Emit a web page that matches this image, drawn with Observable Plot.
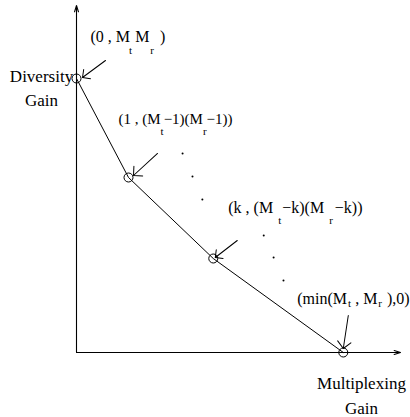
<!DOCTYPE html>
<html>
<head>
<meta charset="utf-8">
<script src="https://cdn.jsdelivr.net/npm/d3@7"></script>
<script src="https://cdn.jsdelivr.net/npm/@observablehq/plot@0.6"></script>
<style>
  html, body { margin: 0; padding: 0; background: #fff; }
  svg text { font-family: "Liberation Serif", "Times New Roman", Times, "DejaVu Serif", serif !important; }
</style>
</head>
<body>
<div id="chart"></div>
<script>
// ---- data (schematic units) ----
const gainX = [0, 1, 2.63, 5.13];          // multiplexing gain of the marked corner points
const gainY = [27.4, 17.5, 9.4, 0];        // diversity gain of the marked corner points
const xMax = 6.23;                         // x axis arrow end
const yMax = 34.7;                         // y axis arrow end
const ellipsisX = [2.04, 2.23, 2.42, 3.60, 3.79, 3.98];
const ellipsisY = [19.9, 17.6, 15.3, 11.7, 9.5, 7.2];
// label pieces: even index = normal text, odd index = subscript
const labelParts = [
  ["(0 , M", "t", "M", "r", ")"],
  ["(1 , (M", "t", "\u22121)(M", "r", "\u22121))"],
  ["(k , (M", "t", "\u2212k)(M", "r", "\u2212k))"],
  ["(min(M", "t", " , M", "r", " ),0)"]
];
const yTitle = ["Diversity", "Gain"];
const xTitle = ["Multiplexing", "Gain"];

// ---- styling / layout (offsets in px) ----
const labelStyle = [
  {dx: 14,  dy: -42.1, size: 16, segs: [[0,0],[-1,12],[3,0],[1,12],[6,0]]},
  {dx: -10, dy: -58.5, size: 15, segs: [[0,0],[0,11],[0,0],[0,11],[0,0]]},
  {dx: 15,  dy: -51.1, size: 16, segs: [[0,0],[5,11],[1,0],[5,11],[2,0]]},
  {dx: -46, dy: -54.1, size: 16, segs: [[0,0],[1,3],[0,0],[1,3],[1,0]]}
];
const arrowStyle = [
  {len: 28.6, rot: 233.5, dx: 6, dy: -1},
  {len: 32.6, rot: 227.5, dx: 5, dy: -2},
  {len: 27.8, rot: 232.3, dx: 2, dy: -1},
  {len: 33.4, rot: 188.6, dx: 0, dy: -4}
];
const FONT = "Liberation Serif, Times New Roman, Times, DejaVu Serif, serif";

const idx = gainX.map((_, i) => i);

const marks = [
  // axes with arrowheads
  Plot.arrow([0], {x1: () => 0, y1: () => 0, x2: () => 0, y2: () => yMax,
    stroke: "black", strokeWidth: 1.1, headLength: 9, headAngle: 35}),
  Plot.arrow([0], {x1: () => 0, y1: () => 0, x2: () => xMax, y2: () => 0,
    stroke: "black", strokeWidth: 1.1, headLength: 9, headAngle: 35}),
  // tradeoff curve
  Plot.line(idx, {x: i => gainX[i], y: i => gainY[i], stroke: "black", strokeWidth: 1}),
  Plot.dot(idx, {x: i => gainX[i], y: i => gainY[i], r: 4.5, stroke: "black", fill: "none", strokeWidth: 1}),
  // ellipsis dots
  Plot.dot(ellipsisX.map((_, i) => i), {x: i => ellipsisX[i], y: i => ellipsisY[i], r: 1, fill: "black", stroke: null}),
  // axis titles
  Plot.text([yTitle.join("\n")], {text: d => d, frameAnchor: "top-left", textAnchor: "middle",
    lineAnchor: "top", dx: -35, dy: 58.8, lineHeight: 1.45, fontSize: 17, fontFamily: FONT, fill: "black"}),
  Plot.text([xTitle.join("\n")], {text: d => d, frameAnchor: "bottom-right", textAnchor: "middle",
    lineAnchor: "top", dx: -39, dy: 18.9, lineHeight: 1.45, fontSize: 17, fontFamily: FONT, fill: "black"})
];

idx.forEach(i => {
  const a = arrowStyle[i];
  marks.push(Plot.vector([i], {x: j => gainX[j], y: j => gainY[j], length: a.len, rotate: a.rot,
    anchor: "end", dx: a.dx, dy: a.dy, stroke: "black", strokeWidth: 1}));
  const s = labelStyle[i];
  marks.push(Plot.text([i], {x: j => gainX[j], y: j => gainY[j], text: j => labelParts[j].join(""),
    textAnchor: "start", dx: s.dx, dy: s.dy, fontSize: s.size, fontFamily: FONT, fill: "black"}));
});

const chart = Plot.plot({
  width: 410,
  height: 417,
  marginLeft: 76,
  marginRight: 10,
  marginTop: 5,
  marginBottom: 65,
  x: {domain: [0, xMax], axis: null},
  y: {domain: [0, yMax], axis: null},
  style: "font-family: 'Liberation Serif', 'Times New Roman', serif; background: white; color: black; overflow: visible;",
  marks
});

// turn subscript pieces into tspans
idx.forEach(i => {
  const full = labelParts[i].join("");
  const s = labelStyle[i];
  d3.select(chart).selectAll("text").filter(function() { return this.textContent === full; }).each(function() {
    const t = d3.select(this);
    t.text(null);
    let prev = 0;
    labelParts[i].forEach((str, j) => {
      const [dx, shift] = s.segs[j];
      t.append("tspan")
        .attr("dx", dx)
        .attr("dy", shift - prev)
        .attr("font-size", j % 2 ? 11 : s.size)
        .text(str);
      prev = shift;
    });
  });
});

document.getElementById("chart").appendChild(chart);
</script>
</body>
</html>
